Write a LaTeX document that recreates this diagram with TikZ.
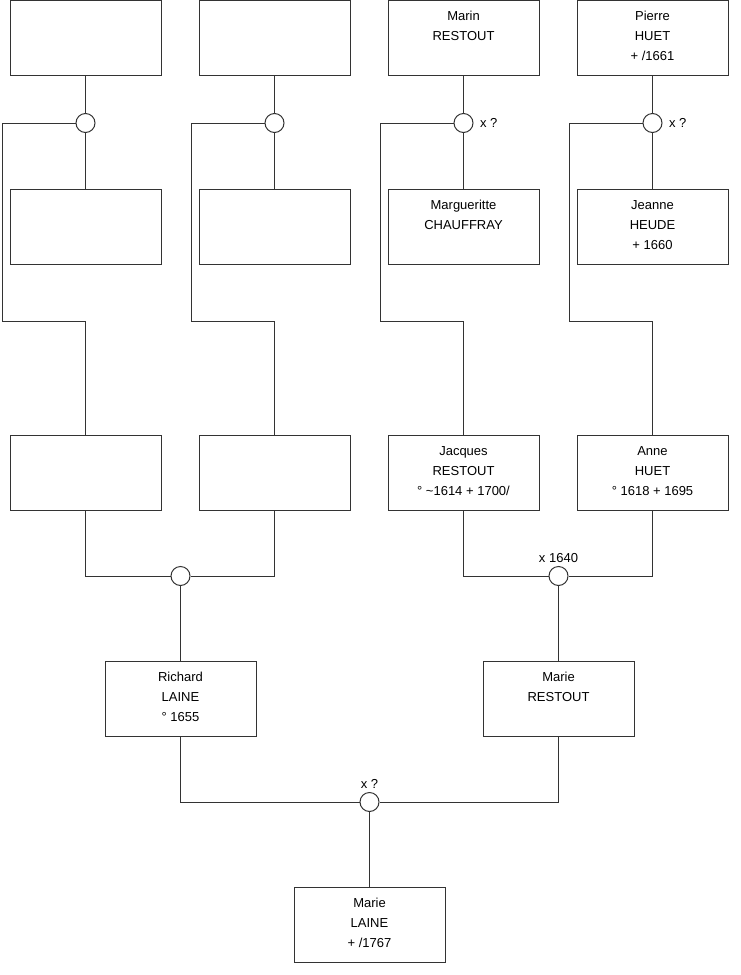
\documentclass[tikz,border=0pt]{standalone}
\usepackage{fontspec}
\setmainfont{Liberation Sans}
\usetikzlibrary{calc}

% three text lines of a person, fixed top and bottom
\newcommand{\personlines}[3]{\rule{0pt}{14pt}#1\\#2\\#3\rule[-9pt]{0pt}{9pt}}

\begin{document}
\begin{tikzpicture}[x=1pt, y=-1pt,
    personbox/.style={draw=lineColour, line width=1pt, fill=white, minimum width=151, minimum height=75, inner sep=0pt, align=center, font=\fontsize{13}{20}\selectfont},
    union/.style={circle, draw=lineColour, line width=1pt, fill=white, minimum size=19, inner sep=0pt},
    link/.style={draw=lineColour, line width=1pt},
    wedding/.style={font=\fontsize{13}{15}\selectfont}]
    % Define colours
    \definecolor{lineColour}{HTML}{333333}

    % Fix the canvas
    \useasboundingbox (0,0) rectangle (740,975);

    % Empty boxes of the left branches
    \foreach \name/\x/\y in {e1/85.5/37.5, e2/274.5/37.5, e3/85.5/227, e4/274.5/227, e5/85.5/472.5, e6/274.5/472.5}
        \node[personbox] (\name) at (\x,\y) {};

    % Top generation
    \node[personbox] (marin) at (463.5,37.5) {\personlines{Marin}{RESTOUT}{}};
    \node[personbox] (pierre) at (652.5,37.5) {\personlines{Pierre}{HUET}{+ /1661}};
    \node[personbox] (marguerite) at (463.5,227) {\personlines{Margueritte}{CHAUFFRAY}{}};
    \node[personbox] (jeanne) at (652.5,227) {\personlines{Jeanne}{HEUDE}{+ 1660}};

    % Parents
    \node[personbox] (jacques) at (463.5,472.5) {\personlines{Jacques}{RESTOUT}{° \textasciitilde1614 + 1700/}};
    \node[personbox] (anne) at (652.5,472.5) {\personlines{Anne}{HUET}{° 1618 + 1695}};

    % Couple
    \node[personbox] (richard) at (180.5,699) {\personlines{Richard}{LAINE}{° 1655}};
    \node[personbox] (marieR) at (558.5,699) {\personlines{Marie}{RESTOUT}{}};

    % Child
    \node[personbox] (marieL) at (369.5,925) {\personlines{Marie}{LAINE}{+ /1767}};

    % Define the marriage circles
    \node[union] (u1) at (85.5,123) {};
    \node[union] (u2) at (274.5,123) {};
    \node[union] (u3) at (463.5,123) {};
    \node[union] (u4) at (652.5,123) {};
    \node[union] (u5) at (180.5,576) {};
    \node[union] (u6) at (558.5,576) {};
    \node[union] (u7) at (369.5,802) {};

    % Marriage dates
    \node[wedding, anchor=west] (d3) at (u3.east) {\hspace{3pt}x ?};
    \node[wedding, anchor=west] (d4) at (u4.east) {\hspace{3pt}x ?};
    \node[wedding, anchor=south] (d6) at (u6.north) {x 1640};
    \node[wedding, anchor=south] (d7) at (u7.north) {x ?};

    % Define corners of the long connectors
    \coordinate (k1) at (2,321);
    \coordinate (k2) at (191,321);
    \coordinate (k3) at (380,321);
    \coordinate (k4) at (569,321);

    % Draw the upper couples
    \draw[link] (e1.south) -- (u1.north) (u1.south) -- (e3.north);
    \draw[link] (e2.south) -- (u2.north) (u2.south) -- (e4.north);
    \draw[link] (marin.south) -- (u3.north) (u3.south) -- (marguerite.north);
    \draw[link] (pierre.south) -- (u4.north) (u4.south) -- (jeanne.north);

    % Draw the lines down to the children
    \draw[link] (u1.west) -| (k1) -| (e5.north);
    \draw[link] (u2.west) -| (k2) -| (e6.north);
    \draw[link] (u3.west) -| (k3) -| (jacques.north);
    \draw[link] (u4.west) -| (k4) -| (anne.north);

    % Draw the parents
    \draw[link] (e5.south) |- (u5.west) (e6.south) |- (u5.east) (u5.south) -- (richard.north);
    \draw[link] (jacques.south) |- (u6.west) (anne.south) |- (u6.east) (u6.south) -- (marieR.north);
    \draw[link] (richard.south) |- (u7.west) (marieR.south) |- (u7.east) (u7.south) -- (marieL.north);

\end{tikzpicture}
\end{document}
